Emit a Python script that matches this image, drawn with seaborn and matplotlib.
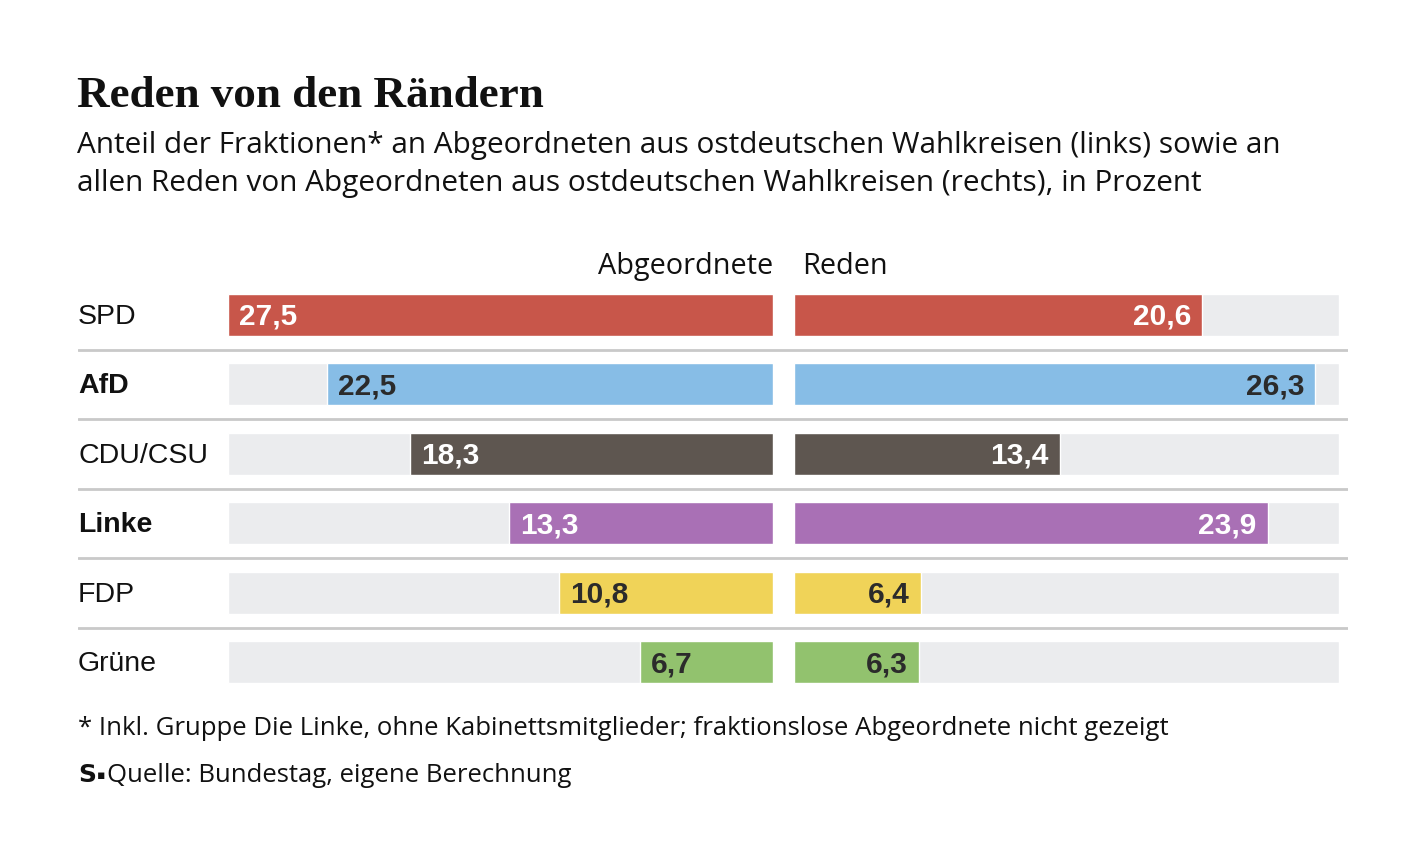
import matplotlib
matplotlib.use("Agg")
import matplotlib.pyplot as plt
import seaborn as sns
import pandas as pd

parties = ["SPD", "AfD", "CDU/CSU", "Linke", "FDP", "Grüne"]
abgeordnete = [27.5, 22.5, 18.3, 13.3, 10.8, 6.7]
reden = [20.6, 26.3, 13.4, 23.9, 6.4, 6.3]
colors = ["#c8564a", "#87bde6", "#5e5650", "#a970b5", "#f0d358", "#92c26e"]
label_colors = ["white", "#2b2b2b", "white", "white", "#2b2b2b", "#2b2b2b"]
bold_parties = ["AfD", "Linke"]
scale_max = 27.5

W, H = 1420, 859
sns.set_style("white")
fig = plt.figure(figsize=(W / 100, H / 100), dpi=100)
fig.patch.set_facecolor("white")


def px_axes(x0, y0, x1, y1):
    # pixel box (top-left origin) -> figure axes
    return fig.add_axes([x0 / W, 1 - y1 / H, (x1 - x0) / W, (y1 - y0) / H])


df = pd.DataFrame({"party": parties, "abg": abgeordnete, "red": reden,
                   "full": [scale_max] * len(parties)})
pal = dict(zip(parties, colors))

row_top, row_bot = 280, 697

# separator lines across the whole table
bg = px_axes(78, row_top, 1348, row_bot)
bg.set_xlim(0, 1)
bg.set_ylim(len(parties) - 0.5, -0.5)
for i in range(len(parties) - 1):
    bg.axhline(i + 0.5, color="#c9c9c9", lw=2)
bg.axis("off")

for i, p in enumerate(parties):
    bg.text(0, i + 0.03, p, ha="left", va="center", fontsize=20.5,
            fontweight="bold" if p in bold_parties else "normal",
            family="Liberation Sans", color="#111111")


def panel(ax, col, side):
    sns.barplot(data=df, x="full", y="party", color="#ebecee", width=0.61,
                saturation=1, ax=ax, orient="h")
    sns.barplot(data=df, x=col, y="party", hue="party", palette=pal,
                width=0.61, saturation=1, ax=ax, orient="h", legend=False)
    ax.set_xlim((scale_max, 0) if side == "left" else (0, scale_max))
    ax.set_ylim(len(parties) - 0.5, -0.5)
    ax.axis("off")
    for i, v in enumerate(df[col]):
        txt = f"{v:.1f}".replace(".", ",")
        off = 8 if side == "left" else -8
        ax.annotate(txt, (v, i + 0.03), xytext=(off, 0),
                    textcoords="offset points",
                    ha="left" if side == "left" else "right", va="center",
                    fontsize=21.5, fontweight="bold",
                    family="Liberation Sans", color=label_colors[i])


left = px_axes(228, row_top, 773, row_bot)
panel(left, "abg", "left")
right = px_axes(794, row_top, 1339, row_bot)
panel(right, "red", "right")

# texts
fig.text(77 / W, 1 - 107 / H, "Reden von den Rändern", fontsize=32.5,
         fontweight="bold", family="Liberation Serif", color="#111111",
         ha="left", va="baseline")
fig.text(77 / W, 1 - 153 / H,
         "Anteil der Fraktionen* an Abgeordneten aus ostdeutschen Wahlkreisen (links) sowie an",
         fontsize=21.4, family="Open Sans", color="#111111", va="baseline")
fig.text(77 / W, 1 - 191 / H,
         "allen Reden von Abgeordneten aus ostdeutschen Wahlkreisen (rechts), in Prozent",
         fontsize=21.4, family="Open Sans", color="#111111", va="baseline")
fig.text(773 / W, 1 - 274 / H, "Abgeordnete", fontsize=20.8, family="Open Sans",
         color="#111111", ha="right", va="baseline")
fig.text(802 / W, 1 - 274 / H, "Reden", fontsize=20.8, family="Open Sans",
         color="#111111", ha="left", va="baseline")
fig.text(78 / W, 1 - 735 / H,
         "* Inkl. Gruppe Die Linke, ohne Kabinettsmitglieder; fraktionslose Abgeordnete nicht gezeigt",
         fontsize=18.5, family="Open Sans", color="#111111", va="baseline")
fig.text(78 / W, 1 - 782 / H, "S", fontsize=18, fontweight="bold",
         family="DejaVu Sans", color="#111111", va="baseline")
fig.text(97 / W, 1 - 779 / H, "▪", fontsize=9,
         family="DejaVu Sans", color="#111111", va="baseline")
fig.text(107 / W, 1 - 782 / H, "Quelle: Bundestag, eigene Berechnung",
         fontsize=18.5, family="Open Sans", color="#111111",
         va="baseline")

fig.savefig("out.png", dpi=100, facecolor="white")
